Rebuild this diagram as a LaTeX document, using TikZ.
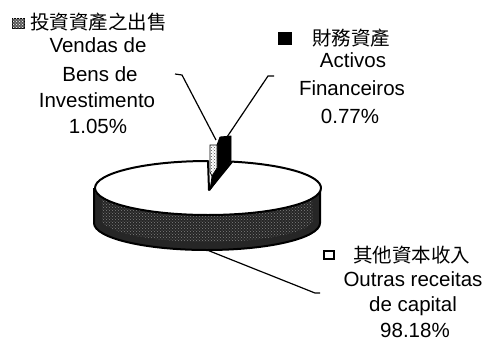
\documentclass[tikz,border=0pt]{standalone}
\usepackage{fontspec}
\setmainfont{Liberation Sans}
\newfontfamily\cjk{Noto Sans CJK TC}
\usetikzlibrary{patterns}
\begin{document}
\begin{tikzpicture}[x=1pt,y=1pt,
  lbl/.style={font=\fontsize{20.5}{24}\selectfont,inner sep=0pt,anchor=base},
  cjklbl/.style={font=\cjk\fontsize{19.5}{22}\selectfont,inner sep=0pt,anchor=west},
  edge/.style={draw=black,line width=2pt,line join=round},
  leader/.style={draw=black,line width=1.2pt},
  sidefill/.style={fill=black!85},
  speck/.style={pattern=crosshatch dots,pattern color=black!50}]
\useasboundingbox[fill=white] (0,0) rectangle (486,341);

% side of the pie
\path[sidefill] (94,153) -- (94,118) arc[start angle=180,end angle=360,x radius=113,y radius=27] -- (320,153) arc[start angle=0,end angle=-180,x radius=113,y radius=27] -- cycle;
\path[speck] (102,148) -- (102,120) arc[start angle=185,end angle=355,x radius=106,y radius=23] -- (312,148) -- cycle;
\draw[edge] (94,153) -- (94,118) arc[start angle=180,end angle=360,x radius=113,y radius=27] -- (320,153);

% top face of the large slice with its notch
\coordinate (apex) at (209,151);
\draw[edge,fill=white] (apex) -- (208,180) arc[start angle=90,end angle=437.7,x radius=113,y radius=27] -- cycle;

% exploded small slices
\filldraw[black,line width=0.8pt,line join=round] (220,204) -- (231,205) -- (231,180) -- (210,151) -- (213,171) -- (217,173) -- (217,196) -- cycle;
\filldraw[draw=black,fill=white,line width=0.8pt] (210,196) -- (217,196) -- (217,173) -- (212,165) -- (210,169) -- cycle;
\path[pattern=crosshatch dots,pattern color=black!70] (210.5,195.5) -- (216.5,195.5) -- (216.5,173.5) -- (212,166) -- (210.5,169) -- cycle;
\coordinate (sv) at (216,201);
\coordinate (sa) at (227,204);
\coordinate (so) at (207,91);

% legend markers
\node[draw=black,line width=0.8pt,fill=black!65,minimum width=12pt,minimum height=10pt,inner sep=0pt] (mv) at (18.5,318) {};
\path[pattern=crosshatch dots,pattern color=white] (mv.south west) rectangle (mv.north east);
\node[fill=black,minimum width=14pt,minimum height=13pt,inner sep=0pt] (ma) at (285,302.5) {};
\node[draw=black,line width=2pt,fill=white,minimum width=10pt,minimum height=8pt,inner sep=0pt] (mo) at (329,86) {};

% labels
\node[cjklbl] (cv) at (30,319) {投資資產之出售};
\node[lbl] (v1) at (98,288.3) {Vendas de};
\node[lbl] (v2) at (100,260) {Bens de};
\node[lbl] (v3) at (97,234) {Investimento};
\node[lbl] (v4) at (98,208) {1.05\%};

\node[cjklbl] (ca) at (312,303) {財務資產};
\node[lbl] (a1) at (353,274) {Activos};
\node[lbl] (a2) at (352,246) {Financeiros};
\node[lbl] (a3) at (350,218) {0.77\%};

\node[cjklbl] (co) at (353,86) {其他資本收入};
\node[lbl] (o1) at (413,55) {Outras receitas};
\node[lbl] (o2) at (413,29.5) {de capital};
\node[lbl] (o3) at (415,4) {98.18\%};

% leader lines
\coordinate (lv) at (175,267);
\coordinate (la) at (274,265);
\coordinate (lo) at (320,48);
\draw[leader] (lv) -- (182,266) -- (sv);
\draw[leader] (la) -- (268,265) -- (sa);
\draw[leader] (so) -- (315,48) -- (lo);
\end{tikzpicture}
\end{document}
